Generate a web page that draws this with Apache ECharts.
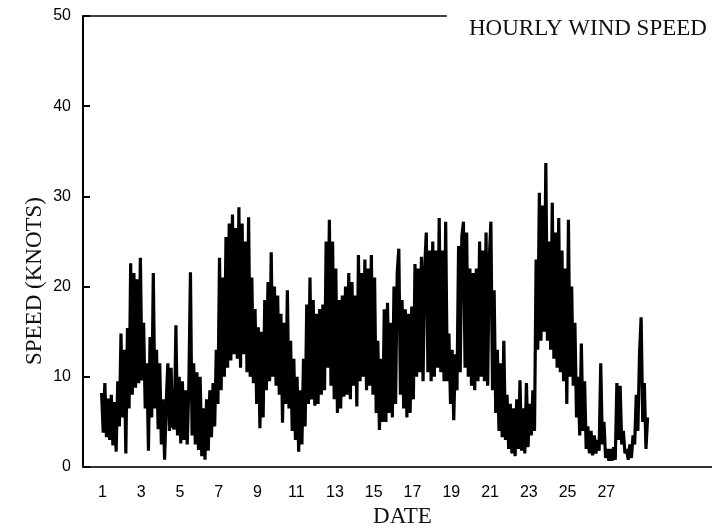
<!DOCTYPE html>
<html>
<head>
<meta charset="utf-8">
<script src="https://cdn.jsdelivr.net/npm/echarts@6/dist/echarts.min.js"></script>
<style>html,body{margin:0;padding:0;background:#fff}#c{width:712px;height:529px}</style>
</head>
<body>
<div id="c"></div>
<script>
// Wind speed samples (knots), every 2 hours
const startDay = 0.96;
const stepDay = 1 / 12;
const speeds = [
 8.2,3.8,9.3,3.3,7.6, 3.0,8.0,2.4,7.2,1.7, 9.5,4.5,14.8,5.5,13.0, 1.5,15.4,6.5,22.6,8.0,
 21.5,8.8,20.8,9.3,23.2, 9.6,16.0,6.5,11.5,1.8, 14.4,5.5,21.5,6.5,13.0, 4.2,11.5,2.5,7.5,0.8,
 7.0,11.5,4.0,11.0,4.5, 4.2,15.7,3.5,10.0,2.6, 9.5,3.0,8.5,2.5,9.0, 21.6,3.5,11.5,2.5,10.5,
 1.9,10.0,1.2,6.5,0.8, 7.5,1.8,8.5,3.3,9.3, 4.5,13.0,7.0,23.2,8.5, 21.0,10.0,25.5,11.0,27.0,
 11.8,28.0,12.5,26.5,12.0, 28.8,11.0,27.0,12.5,25.0, 10.5,27.7,10.0,21.0,9.3, 17.5,7.0,15.5,4.3,15.0,
 5.5,18.5,8.5,20.5,9.5, 23.8,10.0,20.0,9.0,19.0, 8.0,17.0,4.9,16.0,7.0, 19.6,6.5,14.0,4.0,12.0,
 3.0,10.0,1.7,8.5,2.5, 12.0,4.5,18.0,7.0,21.0, 7.5,18.5,6.8,17.0,7.0, 17.5,8.0,18.0,8.5,25.0,
 11.0,27.4,9.0,25.0,7.5, 22.0,6.0,18.5,6.5,19.0, 7.8,20.0,8.0,21.5,7.5, 20.5,9.0,19.0,6.7,23.5,
 9.5,21.5,10.0,23.0,8.5, 22.0,9.0,23.5,8.0,21.0, 6.0,14.0,4.1,12.0,5.0, 17.5,5.0,18.2,6.0,16.0,
 5.5,20.0,7.0,21.5,24.2, 8.0,18.5,6.5,17.5,5.5, 17.0,6.0,17.8,7.5,22.5, 10.0,22.0,10.5,23.3,9.5,
 22.0,26.0,10.5,24.0,9.5, 25.0,10.0,24.0,11.0,27.6, 10.5,24.0,9.5,27.2,9.5, 14.8,7.0,13.0,5.2,12.5,
 8.5,24.5,10.5,25.5,27.2, 11.0,26.0,10.0,22.0,9.0, 21.5,8.5,22.0,9.5,25.0, 10.0,24.0,9.5,26.0,9.0,
 23.0,27.2,8.5,19.6,6.0, 13.0,4.0,11.5,3.3,14.0, 3.0,8.0,2.0,7.0,1.5, 6.5,1.2,7.5,2.0,9.6,
 1.8,6.5,1.5,9.3,2.2, 7.0,3.5,8.5,4.0,23.0, 13.0,30.4,14.0,29.0,15.0, 33.7,14.0,25.0,13.0,29.3,
 12.0,26.0,11.0,27.6,10.5, 24.0,9.5,22.0,7.0,27.4, 10.0,20.0,9.0,16.0,5.5, 10.0,3.5,13.7,4.0,9.5,
 2.0,4.5,1.5,4.0,1.3, 3.5,1.5,3.0,1.8,11.5, 2.5,5.0,1.0,2.0,0.7, 2.0,0.7,2.2,0.8,9.3,
 3.0,9.0,2.5,4.0,1.5, 2.0,0.8,2.5,1.0,3.5, 2.5,8.0,4.0,12.5,16.6, 5.0,9.3,2.0,5.5
];
const xTickLabels = [1,3,5,7,9,11,13,15,17,19,21,23,25,27];
const yTickLabels = [0,10,20,30,40,50];
const xMin = 0, xMax = 32.45, yMin = 0, yMax = 50;
const topLineEndDay = 18.77;

const data = speeds.map((v, i) => [startDay + i * stepDay, v]);

const chart = echarts.init(document.getElementById('c'), null, {renderer: 'canvas'});
chart.setOption({
  animation: false,
  backgroundColor: '#fff',
  title: {
    text: 'HOURLY WIND SPEED',
    left: 464, top: 12,
    textStyle: {fontFamily: 'Liberation Serif', fontSize: 23, fontWeight: 'normal', color: '#111'}
  },
  grid: {left: 83, top: 16, right: 0, bottom: 62, containLabel: false, outerBoundsMode: 'none'},
  xAxis: {
    type: 'value', min: xMin, max: xMax, interval: 1,
    name: 'DATE', nameLocation: 'middle', nameGap: 38,
    nameTextStyle: {fontFamily: 'Liberation Serif', fontSize: 23, color: '#111', padding: [0, 0, 0, 10]},
    axisLine: {show: true, lineStyle: {color: '#333', width: 2}},
    axisTick: {show: false},
    splitLine: {show: false},
    axisLabel: {
      margin: 18, fontFamily: 'Liberation Sans', fontSize: 16, color: '#000',
      formatter: v => xTickLabels.indexOf(Math.round(v)) >= 0 && Math.abs(v - Math.round(v)) < 1e-6 ? String(Math.round(v)) : ''
    }
  },
  yAxis: {
    type: 'value', min: yMin, max: yMax, interval: 10,
    name: '',
    axisLine: {show: true, lineStyle: {color: '#000', width: 2}},
    axisTick: {show: true, inside: true, length: 7, lineStyle: {color: '#000', width: 2}},
    splitLine: {show: false},
    axisLabel: {
      margin: 12, fontFamily: 'Liberation Sans', fontSize: 16, color: '#000',
      formatter: v => yTickLabels.indexOf(v) >= 0 ? String(v) : ''
    }
  },
  graphic: [{
    type: 'text', x: 35, y: 281, rotation: Math.PI / 2,
    style: {
      text: 'SPEED (KNOTS)', fontFamily: 'Liberation Serif', fontSize: 23,
      fill: '#111', align: 'center', verticalAlign: 'middle'
    }
  }],
  series: [{
    type: 'line',
    data: data,
    showSymbol: false,
    symbol: 'none',
    lineStyle: {color: '#000', width: 3.2, join: 'bevel', cap: 'butt'},
    markLine: {
      silent: true, symbol: 'none', label: {show: false},
      lineStyle: {color: '#000', width: 1.5, type: 'solid'},
      data: [[{coord: [xMin, yMax]}, {coord: [topLineEndDay, yMax]}]]
    }
  }]
});
</script>
</body>
</html>
